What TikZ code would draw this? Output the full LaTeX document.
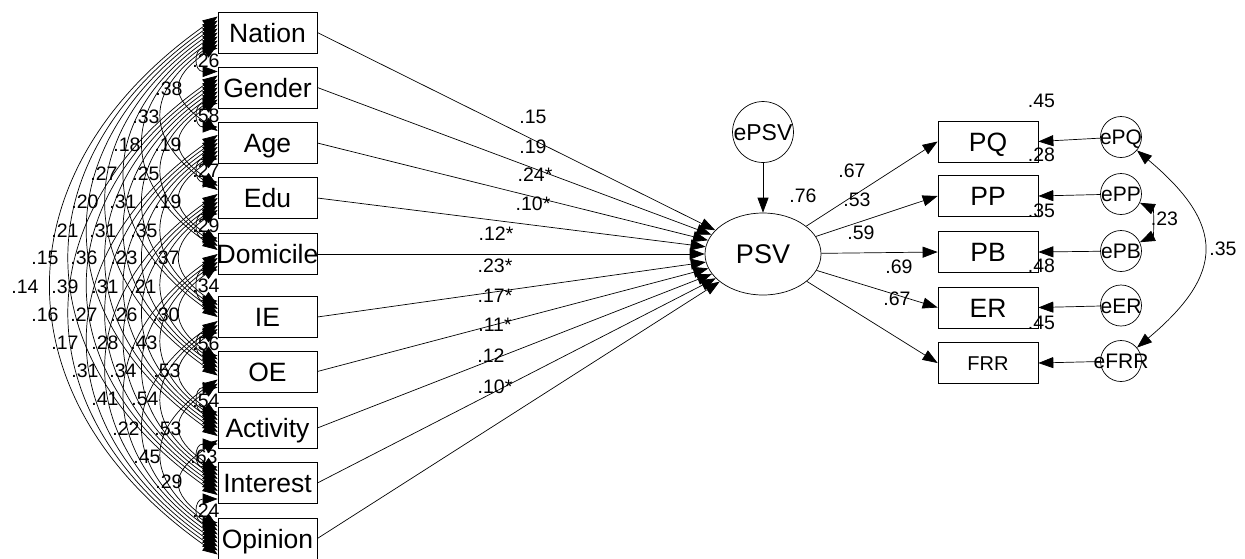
\documentclass[tikz,border=0pt]{standalone}
\usepackage{fontspec}
\setmainfont{Liberation Sans}
\usetikzlibrary{arrows.meta,shapes.geometric,calc}

\begin{document}
\begin{tikzpicture}[x=1pt,y=-1pt,
  every node/.style={inner sep=0pt},
  var/.style={draw, line width=0.7pt, minimum width=99pt, minimum height=41pt,
    text height=19pt, text depth=0pt, font=\fontsize{26.5}{28}\selectfont},
  err/.style={draw, circle, line width=0.7pt, minimum size=41pt,
    text height=15pt, text depth=0pt, font=\fontsize{21}{22}\selectfont},
  latent/.style={draw, ellipse, line width=0.7pt, minimum width=116pt, minimum height=82pt,
    text height=19pt, text depth=0pt, font=\fontsize{27}{28}\selectfont},
  coef/.style={text height=14pt, text depth=0pt, font=\fontsize{19.5}{20}\selectfont},
  headtip/.tip={Triangle[length=15pt,width=11pt]},
  reg/.style={line width=0.7pt, -headtip},
  covar/.style={line width=0.7pt, headtip-headtip},
]
\fill[white] (0,0) rectangle (1245,558);
\useasboundingbox (0,0) rectangle (1245,558);

% exogenous observed variables
\node[var] (Nation)   at (267.5, 32.5) {\makebox[0pt]{Nation}};
\node[var] (Gender)   at (267.5, 87.5) {\makebox[0pt]{Gender}};
\node[var] (Age)      at (267.5,143)   {\makebox[0pt]{Age}};
\node[var] (Edu)      at (267.5,198)   {\makebox[0pt]{Edu}};
\node[var] (Domicile) at (267.5,254)   {\makebox[0pt]{Domicile}};
\node[var] (IE)       at (267.5,317)   {\makebox[0pt]{IE}};
\node[var] (OE)       at (267.5,371.5) {\makebox[0pt]{OE}};
\node[var] (Activity) at (267.5,428)   {\makebox[0pt]{Activity}};
\node[var] (Interest) at (267.5,483)   {\makebox[0pt]{Interest}};
\node[var] (Opinion)  at (267.5,538.5) {\makebox[0pt]{Opinion}};

% latent variable and its disturbance
\node[latent] (PSV) at (763,254) {PSV};
\node[err, minimum size=60pt, text height=16.5pt, font=\fontsize{23}{24}\selectfont] (ePSV) at (763,132) {ePSV};

% indicators
\node[var, minimum width=100pt] (PQ)  at (988,141.5) {PQ};
\node[var, minimum width=100pt] (PP)  at (988,196)   {PP};
\node[var, minimum width=100pt] (PB)  at (988,252)   {PB};
\node[var, minimum width=100pt] (ER)  at (988,307.5) {ER};
\node[var, minimum width=100pt, text height=14.5pt, font=\fontsize{20}{21}\selectfont] (FRR) at (988,363) {FRR};

% measurement errors
\node[err] (ePQ)  at (1121,137)   {\makebox[0pt]{ePQ}};
\node[err] (ePP)  at (1121,194)   {\makebox[0pt]{ePP}};
\node[err] (ePB)  at (1121,251)   {\makebox[0pt]{ePB}};
\node[err] (eER)  at (1121,305.5) {\makebox[0pt]{eER}};
\node[err] (eFRR) at (1121,361)   {\makebox[0pt]{eFRR}};

% correlation estimates among the exogenous variables
\foreach \x/\y/\t [count=\n] in {
  206/60/.26, 206/115/.58, 206/170/.27, 206/225/.29, 206/285/.34,
  206/343/.56, 206/400/.54, 204/456/.63, 206/510/.24,
  169/88/.38, 146/116/.33, 127/144/.18, 168/144/.19, 104/173/.27, 146/173/.25,
  85/201/.20, 123/201/.31, 168/201/.19, 65/230/.21, 103/230/.31, 144/230/.35,
  45/257/.15, 84/257/.36, 124/257/.23, 166/257/.37,
  25/286/.14, 65/286/.39, 105/286/.31, 143/286/.21,
  45/314/.16, 84/314/.27, 124/314/.26, 166/314/.30,
  65/342/.17, 105/342/.28, 144/342/.43,
  85/370/.31, 123/370/.34, 167/370/.53,
  105/398/.41, 145/398/.54, 126/428/.22, 168/428/.53,
  147/456/.45, 169/481/.29}
  \node[coef] (r\n) at (\x,\y) {\t};

% covariance arcs between every pair of exogenous variables
% (y grows downwards here, so polar angle 180-t points left and down)
\def\varlist{Nation/1,Gender/2,Age/3,Edu/4,Domicile/5,IE/6,OE/7,Activity/8,Interest/9,Opinion/10}
\foreach \a/\i in \varlist {
  \foreach \b/\j in \varlist {
    \ifnum\j>\i
      \pgfmathsetmacro\ua{16-4*((\i-1)+(10-\j))}
      \pgfmathsetmacro\ub{16-4*(\j-1-\i)}
      \pgfmathsetmacro\tt{(\j-\i>1) ? 35 : 0}
      \pgfmathsetmacro\cc{(218-(200-18.4*(\j-\i-1)))/(0.75*cos(\tt))}
      \draw[covar] ([yshift=\ua pt]\a.west) .. controls +(180-\tt:\cc) and +(180+\tt:\cc) .. ([yshift=\ub pt]\b.west);
    \fi
  }
}

% structural paths into PSV
\foreach \v in {Nation,Gender,Age,Edu,Domicile,IE,OE,Activity,Interest,Opinion}
  \draw[reg] (\v.east) -- (PSV);
\draw[reg] (ePSV) -- (PSV);

% loadings
\foreach \v in {PQ,PP,PB,ER,FRR}
  \draw[reg] (PSV) -- (\v.west);

% error paths
\draw[reg] (ePQ)  -- (PQ.east);
\draw[reg] (ePP)  -- (PP.east);
\draw[reg] (ePB)  -- (PB.east);
\draw[reg] (eER)  -- (ER.east);
\draw[reg] (eFRR) -- (FRR.east);

% error covariances
\draw[covar] (ePP) to[out=-25,in=25,looseness=1] (ePB);
\draw[covar] (ePQ) to[out=-40,in=40,looseness=1.5] (eFRR);

% path coefficients
\node[coef] (b1)  at (533,116)   {.15};
\node[coef] (b2)  at (533,146)   {.19};
\node[coef] (b3)  at (535,174)   {.24*};
\node[coef] (b4)  at (533,203)   {.10*};
\node[coef] (b5)  at (496,233)   {.12*};
\node[coef] (b6)  at (495,265.5) {.23*};
\node[coef] (b7)  at (495,295)   {.17*};
\node[coef] (b8)  at (495,324)   {.11*};
\node[coef] (b9)  at (491,355.5) {.12};
\node[coef] (b10) at (495,386)   {.10*};

\node[coef] (rPSV) at (803,195) {.76};
\node[coef] (l1) at (852,170) {.67};
\node[coef] (l2) at (857,199) {.53};
\node[coef] (l3) at (861,232) {.59};
\node[coef] (l4) at (899,266) {.69};
\node[coef] (l5) at (897,298) {.67};

% squared multiple correlations
\node[coef] (q1) at (1041.5,100)   {.45};
\node[coef] (q2) at (1041.5,154)   {.28};
\node[coef] (q3) at (1041.5,210.5) {.35};
\node[coef] (q4) at (1041.5,265.5) {.48};
\node[coef] (q5) at (1041.5,322.5) {.45};

% error correlations
\node[coef] (k1) at (1164.5,218.5) {.23};
\node[coef] (k2) at (1223,248)     {.35};
\end{tikzpicture}
\end{document}
